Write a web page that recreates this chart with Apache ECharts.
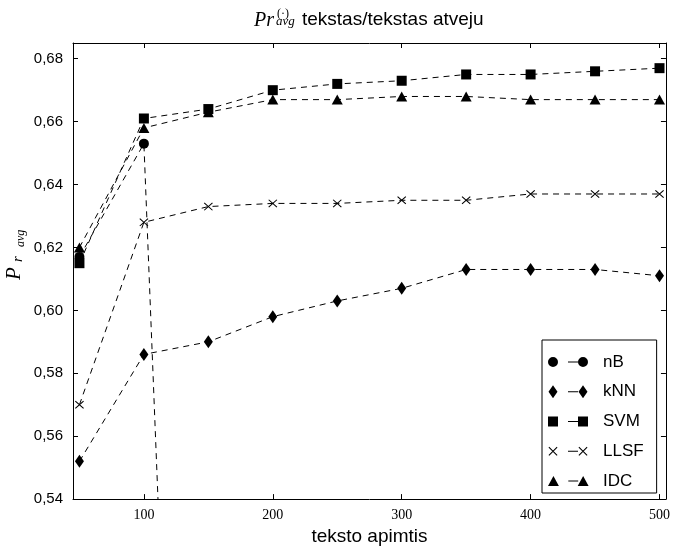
<!DOCTYPE html>
<html>
<head>
<meta charset="utf-8">
<script src="https://cdn.jsdelivr.net/npm/echarts@6/dist/echarts.min.js"></script>
<style>
  html, body { margin: 0; padding: 0; background: #fff; }
  #chart { width: 673px; height: 551px; }
</style>
</head>
<body>
<div id="chart"></div>
<script>
// Text length (x) and averaged precision per classifier
const textLengths = [50, 100, 150, 200, 250, 300, 350, 400, 450, 500];
const seriesNames = ['nB', 'kNN', 'SVM', 'LLSF', 'IDC'];
const nB   = [0.617, 0.653, 0.136];
const kNN  = [0.552, 0.586, 0.590, 0.598, 0.603, 0.607, 0.613, 0.613, 0.613, 0.611];
const SVM  = [0.615, 0.661, 0.664, 0.670, 0.672, 0.673, 0.675, 0.675, 0.676, 0.677];
const LLSF = [0.570, 0.628, 0.633, 0.634, 0.634, 0.635, 0.635, 0.637, 0.637, 0.637];
const IDC  = [0.620, 0.658, 0.663, 0.667, 0.667, 0.668, 0.668, 0.667, 0.667, 0.667];
const xTicks = [100, 200, 300, 400, 500];
const yTicks = [0.54, 0.56, 0.58, 0.60, 0.62, 0.64, 0.66, 0.68];

const SANS = "'Liberation Sans', Arial, sans-serif";
const SERIF = "'Liberation Serif', 'Times New Roman', serif";

// --- marker shapes as path strings ---
function circlePath(cx, cy, r) {
  return `M${cx - r} ${cy}A${r} ${r} 0 1 0 ${cx + r} ${cy}A${r} ${r} 0 1 0 ${cx - r} ${cy}Z`;
}
function diamondPath(cx, cy, w, h) {
  return `M${cx} ${cy - h / 2}L${cx + w / 2} ${cy}L${cx} ${cy + h / 2}L${cx - w / 2} ${cy}Z`;
}
function squarePath(cx, cy, s) {
  const h = s / 2;
  return `M${cx - h} ${cy - h}L${cx + h} ${cy - h}L${cx + h} ${cy + h}L${cx - h} ${cy + h}Z`;
}
function trianglePath(cx, cy, w, h) {
  return `M${cx} ${cy - h / 2}L${cx + w / 2} ${cy + h / 2}L${cx - w / 2} ${cy + h / 2}Z`;
}
function crossPath(cx, cy, s, t) {
  const a = cx - s / 2, b = cy - s / 2, c = cx + s / 2, d = cy + s / 2;
  return `M${a} ${b + t}L${a + t} ${b}L${c} ${d - t}L${c - t} ${d}Z` +
         `M${c - t} ${b}L${c} ${b + t}L${a + t} ${d}L${a} ${d - t}Z`;
}
const crossSymbol = 'path://' + crossPath(4.5, 4.5, 9, 0.75);

const markerSpec = {
  nB:   { symbol: 'circle',    size: 10,       draw: (cx, cy) => circlePath(cx, cy, 5) },
  kNN:  { symbol: 'diamond',   size: [9, 13],  draw: (cx, cy) => diamondPath(cx, cy, 9, 13) },
  SVM:  { symbol: 'rect',      size: 10,       draw: (cx, cy) => squarePath(cx, cy, 10) },
  LLSF: { symbol: crossSymbol, size: [9, 8],   draw: (cx, cy) => crossPath(cx, cy, 9, 0.75) },
  IDC:  { symbol: 'triangle',  size: [11, 10], draw: (cx, cy) => trianglePath(cx, cy, 11, 10) }
};

// legend icon: marker - dash - marker inside a 50x14 box
function legendIcon(name) {
  const m = markerSpec[name];
  const bounds = 'M0 0L0.01 0L0 0.01Z M50 14L49.99 14L50 13.99Z';
  const dash = 'M20 6.5L30 6.5L30 7.5L20 7.5Z';
  return 'path://' + bounds + m.draw(5, 7) + dash + m.draw(35, 7);
}

const valuesByName = { nB, kNN, SVM, LLSF, IDC };
const fmtY = v => v.toFixed(2).replace('.', ',');

const series = seriesNames.map(name => ({
  name,
  type: 'line',
  data: valuesByName[name].map((v, i) => [textLengths[i], v]),
  symbol: markerSpec[name].symbol,
  symbolSize: markerSpec[name].size,
  showAllSymbol: true,
  clip: true,
  itemStyle: { color: '#000', borderWidth: 0 },
  lineStyle: { color: '#000', width: 1, type: [6, 5] },
  emphasis: { disabled: true },
  xAxisIndex: 0,
  yAxisIndex: 0
}));

const axisLineStyle = { show: true, lineStyle: { color: '#000', width: 1 } };

const chart = echarts.init(document.getElementById('chart'), null, { renderer: 'canvas' });
chart.setOption({
  animation: false,
  backgroundColor: '#fff',
  grid: { left: 73, top: 43, width: 596, height: 461, containLabel: false },
  xAxis: [
    {
      type: 'value', min: 45, max: 505, position: 'bottom',
      axisLine: axisLineStyle,
      axisTick: { show: true, inside: true, length: 5, customValues: xTicks, lineStyle: { color: '#000' } },
      axisLabel: { show: true, customValues: xTicks, margin: 9, color: '#000', fontFamily: SERIF, fontSize: 14 },
      splitLine: { show: false },
      name: 'teksto apimtis', nameLocation: 'middle', nameGap: 24,
      nameTextStyle: { color: '#000', fontFamily: SANS, fontSize: 19 }
    },
    {
      type: 'value', min: 45, max: 505, position: 'top',
      axisLine: axisLineStyle,
      axisTick: { show: true, inside: true, length: 5, customValues: xTicks, lineStyle: { color: '#000' } },
      axisLabel: { show: false },
      splitLine: { show: false }
    }
  ],
  yAxis: [
    {
      type: 'value', min: 0.54, max: 0.685, position: 'left',
      axisLine: axisLineStyle,
      axisTick: { show: true, inside: true, length: 5, customValues: yTicks, lineStyle: { color: '#000' } },
      axisLabel: { show: true, customValues: yTicks, formatter: fmtY, margin: 10, color: '#000', fontFamily: SANS, fontSize: 15 },
      splitLine: { show: false }
    },
    {
      type: 'value', min: 0.54, max: 0.685, position: 'right',
      axisLine: axisLineStyle,
      axisTick: { show: true, inside: true, length: 5, customValues: yTicks, lineStyle: { color: '#000' } },
      axisLabel: { show: false },
      splitLine: { show: false }
    }
  ],
  legend: {
    orient: 'vertical',
    left: 542, top: 340,
    padding: [13.5, 13, 3.5, 6],
    itemWidth: 50, itemHeight: 14, itemGap: 12.75,
    borderColor: '#000', borderWidth: 1, borderRadius: 0,
    backgroundColor: '#fff',
    selectedMode: false,
    itemStyle: { borderWidth: 0 },
    textStyle: { color: '#000', fontFamily: SANS, fontSize: 17, lineHeight: 17 },
    data: seriesNames.map(n => ({ name: n, icon: legendIcon(n) }))
  },
  graphic: [
    // title: Pr^(.)_avg tekstas/tekstas atveju
    { type: 'text', x: 254, y: 20.5, style: { text: 'Pr', fontFamily: SERIF, fontStyle: 'italic', fontSize: 20, fill: '#000', align: 'left', verticalAlign: 'middle' } },
    { type: 'text', x: 277, y: 13.5, style: { text: '(\u00b7)', fontFamily: SERIF, fontSize: 12, fill: '#000', align: 'left', verticalAlign: 'middle' } },
    { type: 'text', x: 276, y: 22, style: { text: 'avg', fontFamily: SERIF, fontStyle: 'italic', fontSize: 13, fill: '#000', align: 'left', verticalAlign: 'middle' } },
    { type: 'text', x: 302, y: 20.1, style: { text: 'tekstas/tekstas atveju', fontFamily: SANS, fontSize: 19, fill: '#000', align: 'left', verticalAlign: 'middle' } },
    // y axis label: P_{r_avg}, rotated to read upward
    {
      type: 'group', x: 0, y: 280, rotation: Math.PI / 2,
      children: [
        { type: 'text', x: 0, y: 14.2, style: { text: 'P', fontFamily: SERIF, fontStyle: 'italic', fontSize: 21, fill: '#000', align: 'left', verticalAlign: 'middle' } },
        { type: 'text', x: 18, y: 17.7, style: { text: 'r', fontFamily: SERIF, fontStyle: 'italic', fontSize: 15, fill: '#000', align: 'left', verticalAlign: 'middle' } },
        { type: 'text', x: 33, y: 20.4, style: { text: 'avg', fontFamily: SERIF, fontStyle: 'italic', fontSize: 12, fill: '#000', align: 'left', verticalAlign: 'middle' } }
      ]
    }
  ],
  series
});
</script>
</body>
</html>
